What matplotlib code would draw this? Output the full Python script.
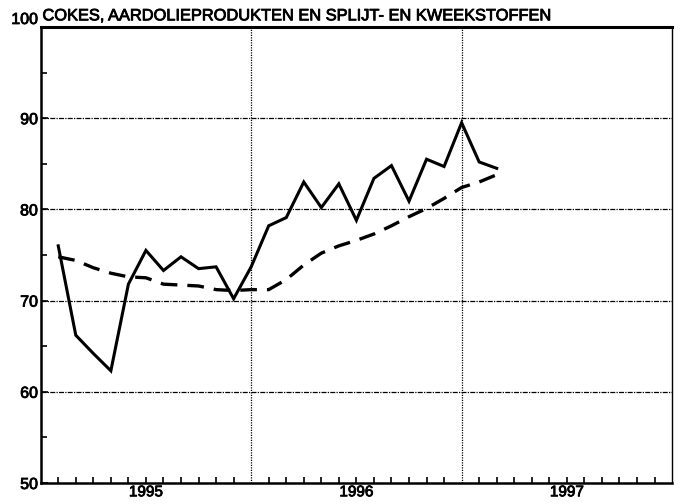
import numpy as np
import matplotlib
matplotlib.use("Agg")
from matplotlib import pyplot as plt
from matplotlib import patheffects as pe
from matplotlib.ticker import MultipleLocator

plt.rcParams['font.family'] = ['Liberation Sans', 'DejaVu Sans']

title = "COKES, AARDOLIEPRODUKTEN EN SPLIJT- EN KWEEKSTOFFEN"
years = ["1995", "1996", "1997"]

# monthly index (1 = first month shown)
months = np.arange(1, 27)
index = [76.0, 66.2, 64.2, 62.3, 71.8, 75.5, 73.3, 74.8, 73.5, 73.7, 70.2, 73.7,
         78.2, 79.1, 83.0, 80.2, 82.8, 78.8, 83.4, 84.8, 80.9, 85.5, 84.7, 89.5,
         85.2, 84.5]
trend = [74.8, 74.4, 73.6, 73.0, 72.6, 72.5, 71.8, 71.7, 71.6, 71.2, 71.1, 71.2,
         71.2, 72.3, 73.9, 75.2, 76.0, 76.6, 77.3, 78.2, 79.2, 80.1, 81.2, 82.4,
         83.0, 83.8]

thick = [pe.withStroke(linewidth=0.6, foreground="black")]

fig = plt.figure(figsize=(6.83, 5.04), dpi=100)
ax = fig.add_axes([0.0596, 0.0417, 0.9244, 0.9048])

ax.set_xlim(0, 36)
ax.set_ylim(50, 100)

# grid
for v in [60, 70, 80, 90]:
    ax.axhline(v, color="black", lw=0.9, ls=(0, (4, 1, 1, 1)), zorder=1)
for m in [12, 24]:
    ax.axvline(m, color="black", lw=0.9, ls=(0, (1, 1)), zorder=1)
ax.axhline(100, color="black", lw=2.2, zorder=3, clip_on=False)

ax.plot(months, trend, color="black", lw=2.4, ls=(0, (5, 3)), zorder=4)
ax.plot(months, index, color="black", lw=2.2, zorder=5,
        solid_joinstyle="miter")

ax.spines["top"].set_visible(False)
ax.spines["right"].set_linestyle((0, (1, 1)))
ax.spines["right"].set_linewidth(1.0)
ax.spines["left"].set_linewidth(1.8)
ax.spines["bottom"].set_linewidth(1.8)

ax.xaxis.set_major_locator(MultipleLocator(12))
ax.xaxis.set_minor_locator(MultipleLocator(1))
ax.yaxis.set_minor_locator(MultipleLocator(5))
ax.tick_params(axis="x", which="major", direction="in", length=0, labelbottom=False)
ax.tick_params(axis="x", which="minor", direction="in", length=4, width=1.2)
ax.tick_params(axis="y", which="major", direction="in", length=5, width=1.2,
               labelsize=11.5, pad=2)
ax.tick_params(axis="y", which="minor", direction="in", length=4, width=1.2)
ax.set_yticks([50, 60, 70, 80, 90, 100])
ax.set_yticklabels(["50", "60", "70", "80", "90", "100"])
for lbl in ax.get_yticklabels():
    lbl.set_path_effects(thick)
ax.get_yticklabels()[-1].set_y(100.3)
ax.get_yticklabels()[-1].set_verticalalignment("bottom")

for i, y in enumerate(years):
    ax.text(6 + 12 * i, 49.75, y, ha="center", va="top", fontsize=11,
            path_effects=thick)

ax.text(0.1, 100.4, title, ha="left", va="bottom", fontsize=11.8,
        path_effects=thick)

fig.savefig("out.png", dpi=100)
